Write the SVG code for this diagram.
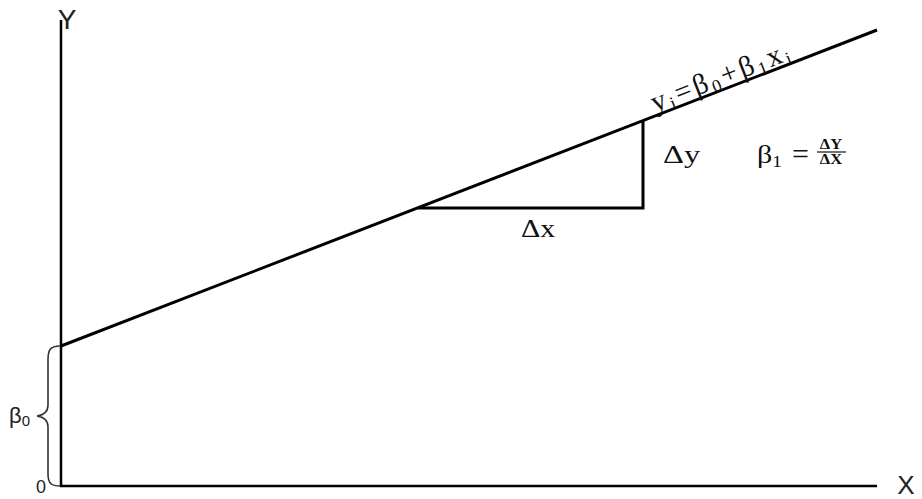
<svg xmlns="http://www.w3.org/2000/svg" width="922" height="499" viewBox="0 0 922 499">
<style>
.ax{stroke:#000;stroke-width:2.5;fill:none}
.ln{stroke:#000;stroke-width:3;fill:none}
.serif{font-family:"Liberation Serif","Times New Roman",serif;fill:#111}
.sans{font-family:"Liberation Sans",Arial,sans-serif;fill:#222}
</style>
<rect width="922" height="499" fill="#fff"/>
<g id="axes">
<line class="ax" x1="61" y1="20" x2="61" y2="486"/>
<line class="ax" x1="60" y1="486" x2="877" y2="486"/>
<text class="sans" x="67" y="29" font-size="28" text-anchor="middle">Y</text>
<text class="sans" x="906" y="494" font-size="26" text-anchor="middle">X</text>
<text class="sans" x="41" y="493" font-size="18" text-anchor="middle" fill="#334">0</text>
</g>
<g id="connectors">
<line class="ln" x1="61" y1="346" x2="877" y2="30"/>
<polyline class="ln" points="418,208 643,208 643,121"/>
</g>
<g id="brace">
<path d="M60,346 C50,346 48,350 48,360 L48,405 C48,412 44,415 37,416 C44,417 48,420 48,427 L48,474 C48,484 52,486 60,486" stroke="#333" stroke-width="1.6" fill="none"/>
<text class="sans" x="9" y="423" font-size="22" fill="#334">β<tspan font-size="15" dy="3">0</tspan></text>
</g>
<g id="labels">
<text class="serif" font-size="25" transform="translate(663,163) scale(1.3,1)">Δy</text>
<text class="serif" font-size="25" transform="translate(521,237) scale(1.2,1)">Δx</text>
<text class="serif" font-size="25" transform="translate(757,163) scale(1.2,1)">β<tspan font-size="16" dy="4">1</tspan></text>
<text class="serif" font-size="30" x="792" y="164">=</text>
<text class="serif" font-size="15" font-weight="bold" x="831" y="149" text-anchor="middle" transform="translate(831,0) scale(1.1,1) translate(-831,0)">ΔY</text>
<line x1="817" y1="152" x2="846" y2="152" stroke="#111" stroke-width="1.2"/>
<text class="serif" font-size="15" font-weight="bold" x="831" y="164" text-anchor="middle" transform="translate(831,0) scale(1.1,1) translate(-831,0)">ΔX</text>
<text class="serif" font-size="29" letter-spacing="3" transform="translate(655,112) rotate(-21.2)">y<tspan font-size="18" dy="4">i</tspan><tspan dy="-4">=β</tspan><tspan font-size="18" dy="4">0</tspan><tspan dy="-4">+β</tspan><tspan font-size="18" dy="4">1</tspan><tspan dy="-4">x</tspan><tspan font-size="18" dy="4">i</tspan></text>
</g>
</svg>
